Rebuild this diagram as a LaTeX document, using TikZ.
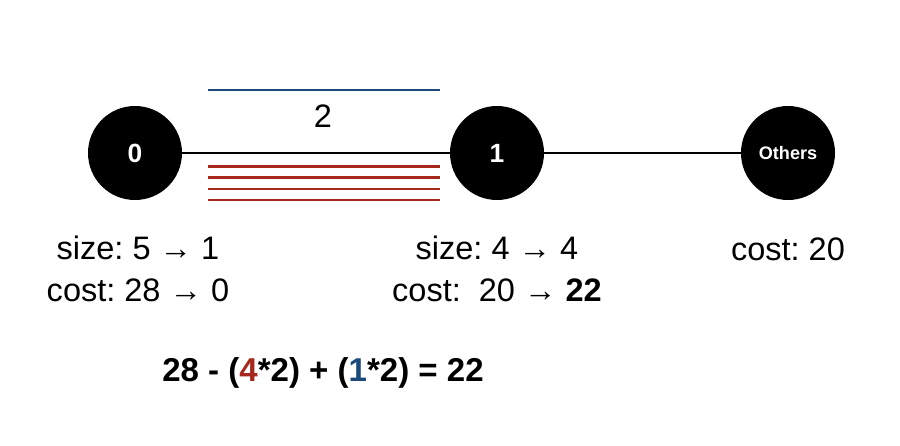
\documentclass[tikz,border=0pt]{standalone}
\usepackage{fontspec}
\setmainfont{Liberation Sans}
\usepackage{xcolor}
\usetikzlibrary{positioning}
\definecolor{myblue}{RGB}{27,74,122}
\definecolor{myred}{RGB}{166,40,28}
\frenchspacing
\begin{document}
\begin{tikzpicture}[
  vertex/.style={circle,fill=black,minimum size=1.88cm,inner sep=0pt,
                 text=white,font=\fontsize{15}{17}\selectfont\bfseries},
  info/.style={align=center,font=\fontsize{18.5}{24}\selectfont,inner sep=0pt},
  edge/.style={line width=1.4pt},
  unitline/.style={line width=1.7pt}]
\useasboundingbox (0,0) rectangle (18,-8.92);
\node[vertex] (v0) at (2.70,-3.06)  {0};
\node[vertex] (v1) at (9.94,-3.06)  {1};
\node[vertex,font=\fontsize{10.3}{12}\selectfont\bfseries] (vo) at (15.76,-3.06) {Others};
\draw[edge] (v0) -- (v1);
\draw[edge] (v1) -- (vo);
% moved units
\draw[unitline,myblue] (4.16,-1.80) -- (8.80,-1.80);
\node[info] (w) at (6.46,-2.32) {2};
\foreach \y in {-3.33,-3.55,-3.78,-4.00}
  \draw[unitline,myred] (4.16,\y) -- (8.80,\y);
% labels
\node[info] (l0) at (2.76,-5.38) {size: 5 → 1\\cost: 28 → 0};
\node[info] (l1) at (9.94,-5.38) {size: 4 → 4\\cost:\ \ 20 → \textbf{22}};
\node[info] (lo) at (15.76,-4.98) {cost: 20};
\node[info,font=\fontsize{18.8}{22}\selectfont\bfseries] (eq) at (6.46,-7.46)
  {28 - (\textcolor{myred}{4}*2) + (\textcolor{myblue}{1}*2) = 22};
\end{tikzpicture}
\end{document}
